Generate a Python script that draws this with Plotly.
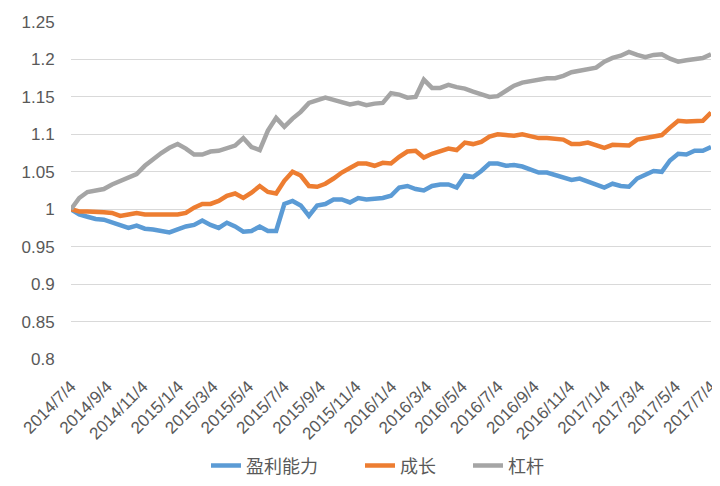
import pandas as pd
import plotly.graph_objects as go

start_date = "2014-07-04"
end_date = "2017-07-04"
n_points = 79

profit = [1.000, 0.993, 0.990, 0.987, 0.986, 0.982, 0.978, 0.975, 0.978, 0.974,
          0.973, 0.971, 0.969, 0.973, 0.977, 0.979, 0.985, 0.979, 0.975, 0.982,
          0.977, 0.970, 0.971, 0.977, 0.971, 0.971, 1.007, 1.011, 1.005, 0.991,
          1.005, 1.007, 1.013, 1.013, 1.009, 1.015, 1.013, 1.014, 1.015, 1.018,
          1.029, 1.031, 1.027, 1.025, 1.031, 1.033, 1.033, 1.029, 1.045, 1.043,
          1.051, 1.061, 1.061, 1.058, 1.059, 1.057, 1.053, 1.049, 1.049, 1.046,
          1.043, 1.039, 1.041, 1.037, 1.033, 1.029, 1.034, 1.031, 1.030, 1.041,
          1.046, 1.051, 1.050, 1.065, 1.074, 1.073, 1.078, 1.078, 1.083]

growth = [1.000, 0.997, 0.997, 0.997, 0.996, 0.995, 0.991, 0.993, 0.995, 0.993,
          0.993, 0.994, 0.993, 0.993, 0.995, 1.002, 1.007, 1.007, 1.011, 1.018,
          1.021, 1.015, 1.022, 1.031, 1.023, 1.021, 1.038, 1.050, 1.045, 1.031,
          1.030, 1.034, 1.041, 1.049, 1.055, 1.061, 1.061, 1.058, 1.062, 1.061,
          1.070, 1.077, 1.078, 1.069, 1.074, 1.078, 1.081, 1.079, 1.089, 1.087,
          1.090, 1.097, 1.100, 1.099, 1.098, 1.100, 1.097, 1.095, 1.095, 1.094,
          1.093, 1.087, 1.087, 1.089, 1.085, 1.082, 1.086, 1.086, 1.085, 1.093,
          1.095, 1.098, 1.099, 1.109, 1.118, 1.117, 1.117, 1.118, 1.129]

leverage = [1.000, 1.015, 1.023, 1.025, 1.027, 1.033, 1.038, 1.043, 1.047, 1.058,
            1.067, 1.075, 1.082, 1.087, 1.081, 1.073, 1.073, 1.077, 1.078, 1.081,
            1.085, 1.095, 1.083, 1.079, 1.105, 1.122, 1.110, 1.121, 1.130, 1.142,
            1.145, 1.149, 1.146, 1.143, 1.140, 1.142, 1.139, 1.141, 1.142, 1.155,
            1.153, 1.149, 1.150, 1.173, 1.162, 1.162, 1.166, 1.163, 1.161, 1.157,
            1.154, 1.150, 1.151, 1.158, 1.165, 1.169, 1.171, 1.174, 1.175, 1.175,
            1.178, 1.183, 1.185, 1.186, 1.189, 1.197, 1.202, 1.205, 1.210, 1.206,
            1.203, 1.206, 1.207, 1.201, 1.197, 1.199, 1.201, 1.202, 1.207]

series_names = ["盈利能力", "成长", "杠杆"]
series_colors = ["#5B9BD5", "#ED7D31", "#A5A5A5"]

x_tick_dates = ["2014-07-04", "2014-09-04", "2014-11-04", "2015-01-04", "2015-03-04",
                "2015-05-04", "2015-07-04", "2015-09-04", "2015-11-04", "2016-01-04",
                "2016-03-04", "2016-05-04", "2016-07-04", "2016-09-04", "2016-11-04",
                "2017-01-04", "2017-03-04", "2017-05-04", "2017-07-04"]
x_tick_labels = ["2014/7/4", "2014/9/4", "2014/11/4", "2015/1/4", "2015/3/4",
                 "2015/5/4", "2015/7/4", "2015/9/4", "2015/11/4", "2016/1/4",
                 "2016/3/4", "2016/5/4", "2016/7/4", "2016/9/4", "2016/11/4",
                 "2017/1/4", "2017/3/4", "2017/5/4", "2017/7/4"]

y_tick_vals = [0.8, 0.85, 0.9, 0.95, 1.0, 1.05, 1.1, 1.15, 1.2, 1.25]
y_tick_labels = ["0.8", "0.85", "0.9", "0.95", "1", "1.05", "1.1", "1.15", "1.2", "1.25"]

dates = pd.date_range(start_date, end_date, periods=n_points)

legend_ids = ["legend", "legend2", "legend3"]
legend_x = [198, 352, 460]  # left edges of the legend entries (figure px)

fig = go.Figure()
for name, vals, col, lg in zip(series_names, [profit, growth, leverage], series_colors, legend_ids):
    fig.add_trace(go.Scatter(x=dates, y=vals, mode="lines", name=name,
                             line=dict(color=col, width=4.5), legend=lg))

# the page body has an 8px default margin, so the figure is sized to fill the rest
font_family = "Liberation Sans, Arial, Noto Sans CJK SC, sans-serif"
fig_w, fig_h = 712, 478
fig.update_layout(
    width=fig_w, height=fig_h,
    margin=dict(l=63, r=9, t=14, b=127, autoexpand=False),
    paper_bgcolor="white", plot_bgcolor="white",
    font=dict(family=font_family, size=17, color="#595959"),
    showlegend=True,
)
for lg, lx in zip(legend_ids, legend_x):
    fig.update_layout({lg: dict(orientation="h", xref="container", yref="container",
                                x=lx / fig_w, xanchor="left", y=0.042, yanchor="middle",
                                font=dict(size=18, color="#595959"),
                                bgcolor="rgba(0,0,0,0)")})
fig.update_xaxes(
    range=[pd.Timestamp(start_date), pd.Timestamp(end_date)],
    tickvals=pd.to_datetime(x_tick_dates), ticktext=x_tick_labels,
    tickangle=-45, showgrid=False, zeroline=False, showline=False,
    tickfont=dict(size=17, color="#595959"),
    ticks="outside", ticklen=10, tickcolor="rgba(0,0,0,0)", automargin=False,
)
fig.update_yaxes(
    range=[0.8, 1.25], tickvals=y_tick_vals, ticktext=y_tick_labels,
    showgrid=True, gridcolor="#D9D9D9", gridwidth=1, zeroline=False, showline=False,
    tickfont=dict(size=17, color="#595959"),
    ticks="outside", ticklen=12, tickcolor="rgba(0,0,0,0)", automargin=False,
)

fig.write_html("out.html")
